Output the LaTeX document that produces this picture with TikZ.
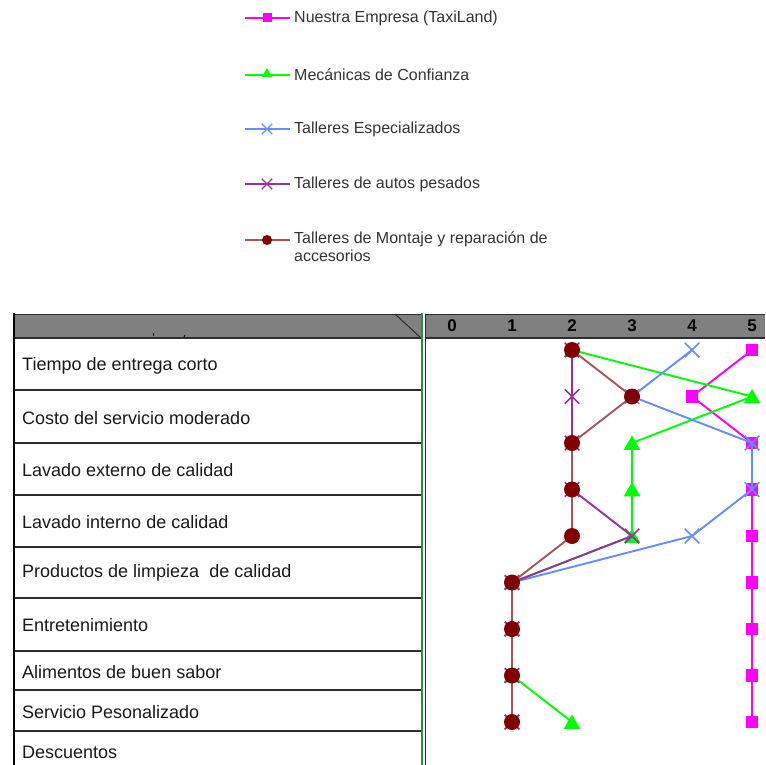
\documentclass[tikz,border=0pt]{standalone}
\usepackage{fontspec}
\setmainfont{Liberation Sans}
\usetikzlibrary{shapes.geometric,shapes.misc}

\definecolor{cpink}{RGB}{255,0,255}
\definecolor{cgreen}{RGB}{0,255,0}
\definecolor{cblue}{RGB}{102,140,255}
\definecolor{cpurple}{RGB}{150,50,160}
\definecolor{cbrownline}{RGB}{168,85,85}
\definecolor{cbrown}{RGB}{128,0,0}
\definecolor{hdrgray}{RGB}{128,128,128}
\definecolor{gridline}{RGB}{45,45,45}
\definecolor{sepgreen}{RGB}{40,140,80}

\tikzset{
  ser/.style={line width=1.9pt},
  sqmark/.style={rectangle, fill=cpink, minimum size=12.5pt, inner sep=0pt},
  trimark/.style={regular polygon, regular polygon sides=3, fill=cgreen, minimum size=19pt, inner sep=0pt},
  xmark/.style={cross out, draw=#1, line width=1.5pt, minimum size=13pt, inner sep=0pt},
  dotmark/.style={circle, fill=cbrown, minimum size=16pt, inner sep=0pt},
  lsq/.style={rectangle, fill=cpink, minimum size=9pt, inner sep=0pt},
  ltri/.style={regular polygon, regular polygon sides=3, fill=cgreen, minimum size=12pt, inner sep=0pt},
  lx/.style={cross out, draw=#1, line width=1.4pt, minimum size=9pt, inner sep=0pt},
  ldot/.style={circle, fill=cbrown, minimum size=10pt, inner sep=0pt},
  legtext/.style={anchor=west, font=\fontsize{16}{18}\selectfont, text=black!80, inner sep=0pt},
  rowtext/.style={anchor=west, font=\fontsize{18}{20}\selectfont, text=black!90, inner sep=0pt},
  axnum/.style={font=\bfseries\fontsize{17}{18}\selectfont, inner sep=0pt},
  rule/.style={draw=gridline, line width=2pt}
}

\begin{document}
\begin{tikzpicture}[x=1pt,y=-1pt]
\useasboundingbox (0,0) rectangle (765,765);

% ---------- legend ----------
\foreach \yy/\c in {18/cpink,75/cgreen,129/cblue,184/cpurple,240/cbrownline}
  \draw[\c, line width=1.9pt] (245,\yy) coordinate (l-\c-a) -- (290,\yy) coordinate (l-\c-b);
\node[lsq]  (lm1) at (267,18) {};
\node[ltri] (lm2) at (267,74) {};
\node[lx=cblue] (lm3) at (267,129) {};
\node[lx=cpurple] (lm4) at (267,184) {};
\node[ldot] (lm5) at (267,240) {};
\node[legtext] (lt1) at (294,18) {Nuestra Empresa (TaxiLand)};
\node[legtext] (lt2) at (294,75) {Mecánicas de Confianza};
\node[legtext] (lt3) at (294,129) {Talleres Especializados};
\node[legtext] (lt4) at (294,184) {Talleres de autos pesados};
\node[legtext, anchor=north west, align=left] (lt5) at (294,232)
  {Talleres de Montaje y reparación de\\accesorios};

% ---------- table of attributes ----------
\fill[hdrgray] (14,314) rectangle (421,338);
\draw[gridline, line width=0.8pt] (14,314) -- (421,314);
\draw[gridline, line width=1pt] (395,314) -- (421,338);
\draw[black, line width=0.8pt] (153,333) -- (153,336);
\draw[black, line width=0.8pt] (185,335) -- (184,337);
\foreach \yy in {338,390,443,495,547,598,651,690,731}
  \draw[rule] (14,\yy) -- (421,\yy);
\draw[black, line width=2.5pt] (14,313) -- (14,765);
\draw[sepgreen, line width=2pt] (422,313) -- (422,765);

\node[rowtext] (r1) at (22,366) {Tiempo de entrega corto};
\node[rowtext] (r2) at (22,418) {Costo del servicio moderado};
\node[rowtext] (r3) at (22,470) {Lavado externo de calidad};
\node[rowtext] (r4) at (22,522) {Lavado interno de calidad};
\node[rowtext] (r5) at (22,573) {Productos de limpieza\ \ de calidad};
\node[rowtext] (r6) at (22,625) {Entretenimiento};
\node[rowtext] (r7) at (22,672) {Alimentos de buen sabor};
\node[rowtext] (r8) at (22,712) {Servicio Pesonalizado};
\node[rowtext] (r9) at (22,752) {Descuentos};

% ---------- rating scale ----------
\fill[hdrgray] (425,314) rectangle (765,338);
\draw[gridline, line width=0.8pt] (425,314) -- (765,314);
\draw[gridline, line width=2pt] (425,338) -- (765,338);
\draw[gridline, line width=1pt] (425,314) -- (425,765);
\foreach \v in {0,...,5}
  \node[axnum] (ax\v) at ({452+60*\v},326) {\v};

% ---------- series data ----------
\foreach \s/\vals in {
  pk/{5,4,5,5,5,5,5,5,5},
  gr/{2,5,3,3,3,1,1,1,2},
  bl/{4,3,5,5,4,1,1,1,1},
  pu/{2,2,2,2,3,1,1,1,1},
  br/{2,3,2,2,2,1,1,1,1}}
{
  \foreach \v [count=\i] in \vals
    \coordinate (\s-\i) at ({452+60*\v},{350+46.5*(\i-1)});
}

% Nuestra Empresa
\draw[ser, cpink] (pk-1) \foreach \i in {2,...,9} { -- (pk-\i) };
\foreach \i in {1,...,9} \node[sqmark] (mpk-\i) at (pk-\i) {};
% Mecanicas de Confianza
\draw[ser, cgreen] (gr-1) \foreach \i in {2,...,9} { -- (gr-\i) };
\foreach \i in {1,...,9} \node[trimark] (mgr-\i) at ([yshift=-2pt]gr-\i) {};
% Talleres Especializados
\draw[ser, cblue] (bl-1) \foreach \i in {2,...,9} { -- (bl-\i) };
\foreach \i in {1,...,9} \node[xmark=cblue] (mbl-\i) at (bl-\i) {};
% Talleres de autos pesados
\draw[ser, cpurple] (pu-1) \foreach \i in {2,...,9} { -- (pu-\i) };
\foreach \i in {1,...,9} \node[xmark=cpurple] (mpu-\i) at (pu-\i) {};
% Talleres de Montaje y reparacion de accesorios
\draw[ser, cbrownline] (br-1) \foreach \i in {2,...,9} { -- (br-\i) };
\foreach \i in {1,...,9} \node[dotmark] (mbr-\i) at (br-\i) {};

\end{tikzpicture}
\end{document}
